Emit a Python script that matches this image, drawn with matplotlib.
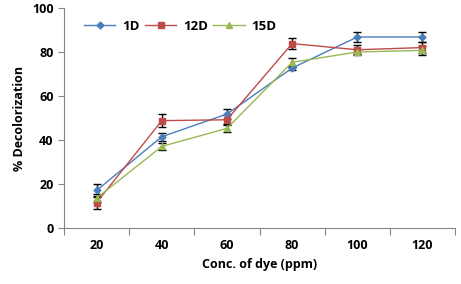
import numpy as np
import matplotlib.pyplot as plt

conc = ['20', '40', '60', '80', '100', '120']
d1 = [17.1, 41.5, 51.8, 72.7, 86.8, 86.8]
d12 = [11.6, 48.8, 49.2, 83.8, 81.0, 82.0]
d15 = [13.6, 37.1, 45.3, 75.3, 80.0, 80.7]
err1 = [2.9, 1.8, 2.4, 1.0, 2.3, 2.3]
err12 = [2.8, 3.0, 2.0, 2.5, 2.0, 2.5]
err15 = [1.8, 1.5, 1.5, 2.0, 1.5, 2.0]

plt.rcParams['font.family'] = ['Open Sans', 'DejaVu Sans']
plt.rcParams['font.weight'] = 'bold'

fig = plt.figure(figsize=(4.61, 2.84), dpi=100)
ax = fig.add_axes([0.139, 0.197, 0.848, 0.775])

x = np.arange(len(conc))
ax.errorbar(x, d1, yerr=err1, color='#4A7EBB', marker='D', markersize=3.5, lw=1,
            ecolor='black', elinewidth=1, capsize=3, label='1D')
ax.errorbar(x, d12, yerr=err12, color='#BE4B48', marker='s', markersize=4.5, lw=1,
            ecolor='black', elinewidth=1, capsize=3, label='12D')
ax.errorbar(x, d15, yerr=err15, color='#98B954', marker='^', markersize=4.5, lw=1,
            ecolor='black', elinewidth=1, capsize=3, label='15D')

ax.set_xlim(-0.5, len(conc) - 0.5)
ax.set_ylim(0, 100)
ax.set_yticks([0, 20, 40, 60, 80, 100])
ax.set_xticks(np.arange(-0.5, len(conc), 1.0))
ax.set_xticklabels([])
ax.set_xticks(x, minor=True)
ax.set_xticklabels(conc, minor=True)
ax.tick_params(axis='x', which='minor', length=0, pad=8, labelsize=9)
ax.tick_params(axis='x', which='major', length=5, color='#868686')
ax.tick_params(axis='y', length=4, color='#868686', labelsize=9)

for s in ['top', 'right']:
    ax.spines[s].set_visible(False)
for s in ['left', 'bottom']:
    ax.spines[s].set_color('#868686')

ax.set_xlabel('Conc. of dye (ppm)', fontsize=9, fontweight='bold')
ax.set_ylabel('% Decolorization', fontsize=9, fontweight='bold')

handles, labels = ax.get_legend_handles_labels()
handles = [h[0] for h in handles]
ax.legend(handles, labels, ncol=3, frameon=False, loc='upper left',
          bbox_to_anchor=(0.02, 1.0), fontsize=9.5, handlelength=2.4,
          columnspacing=0.4, handletextpad=0.5)

plt.savefig('out.png', dpi=100)
